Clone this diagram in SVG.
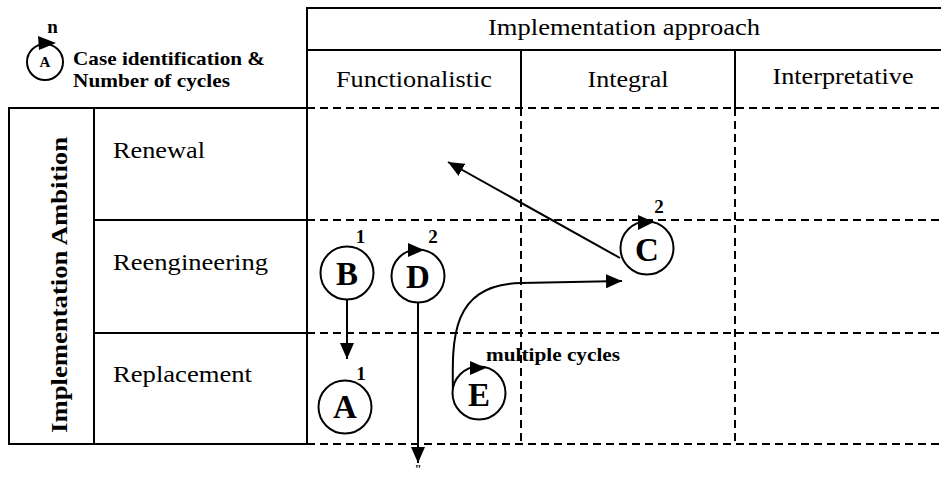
<svg xmlns="http://www.w3.org/2000/svg" width="941" height="477" viewBox="0 0 941 477">
<style>
.solid{stroke:#000;stroke-width:2;fill:none}
.dash{stroke:#000;stroke-width:2;fill:none;stroke-dasharray:8 5}
text{font-family:'Liberation Serif','Times New Roman',Tinos,'Nimbus Roman',serif;fill:#000}
.lbl{font-size:23px}
.bold{font-weight:bold}
.node circle{fill:#fff;stroke:#000;stroke-width:2}
.letter{font-weight:bold;font-size:33px;text-anchor:middle}
.num{font-weight:bold;font-size:19px;text-anchor:middle}
.conn{stroke:#000;stroke-width:2;fill:none}
</style>
<defs>
<marker id="ah" markerUnits="userSpaceOnUse" markerWidth="16" markerHeight="14" refX="16" refY="7" orient="auto">
<path d="M0,0 L16,7 L0,14 z" fill="#000"/>
</marker>
</defs>
<rect width="941" height="477" fill="#fff"/>

<g id="legend">
<circle cx="45" cy="62" r="18" fill="#fff" stroke="#000" stroke-width="2"/>
<polygon points="38,36 56,43 39,50" fill="#000"/>
<text x="45" y="67" class="bold" font-size="15" text-anchor="middle">A</text>
<text x="52.5" y="33" class="bold" font-size="19" text-anchor="middle">n</text>
<text x="73" y="65" class="bold" font-size="19" textLength="192" lengthAdjust="spacingAndGlyphs">Case identification &amp;</text>
<text x="73" y="87" class="bold" font-size="19" textLength="157" lengthAdjust="spacingAndGlyphs">Number of cycles</text>
</g>

<g id="grid">
<line class="solid" x1="307" y1="8" x2="941" y2="8"/>
<line class="solid" x1="307" y1="50" x2="941" y2="50"/>
<line class="solid" x1="307" y1="7" x2="307" y2="445"/>
<line class="solid" x1="521" y1="50" x2="521" y2="108"/>
<line class="solid" x1="735" y1="50" x2="735" y2="108"/>
<line class="dash" x1="307" y1="108" x2="941" y2="108"/>
<line class="dash" x1="307" y1="220" x2="941" y2="220"/>
<line class="dash" x1="307" y1="333" x2="941" y2="333"/>
<line class="dash" x1="307" y1="444" x2="941" y2="444"/>
<line class="dash" x1="521" y1="108" x2="521" y2="444"/>
<line class="dash" x1="735" y1="108" x2="735" y2="444"/>
<rect class="solid" x="9" y="108" width="298" height="336"/>
<line class="solid" x1="94" y1="108" x2="94" y2="444"/>
<line class="solid" x1="94" y1="220" x2="307" y2="220"/>
<line class="solid" x1="94" y1="333" x2="307" y2="333"/>
</g>

<g id="headers">
<text x="624" y="35" class="lbl" text-anchor="middle" textLength="272" lengthAdjust="spacingAndGlyphs">Implementation approach</text>
<text x="414" y="87" class="lbl" text-anchor="middle" textLength="156" lengthAdjust="spacingAndGlyphs">Functionalistic</text>
<text x="628" y="87" class="lbl" text-anchor="middle" textLength="81" lengthAdjust="spacingAndGlyphs">Integral</text>
<text x="843" y="84" class="lbl" text-anchor="middle" textLength="141" lengthAdjust="spacingAndGlyphs">Interpretative</text>
<text x="67" y="285" class="bold" font-size="24" text-anchor="middle" transform="rotate(-90 67 285)" textLength="296" lengthAdjust="spacingAndGlyphs">Implementation Ambition</text>
<text x="113" y="158" class="lbl" textLength="92" lengthAdjust="spacingAndGlyphs">Renewal</text>
<text x="113" y="270" class="lbl" textLength="155" lengthAdjust="spacingAndGlyphs">Reengineering</text>
<text x="113" y="382" class="lbl" textLength="139" lengthAdjust="spacingAndGlyphs">Replacement</text>
</g>

<g id="connectors">
<line class="conn" x1="620" y1="258" x2="448" y2="162" marker-end="url(#ah)"/>
<line class="conn" x1="347" y1="300" x2="347" y2="359" marker-end="url(#ah)"/>
<line class="conn" x1="418" y1="302" x2="418" y2="463" marker-end="url(#ah)"/>
<path class="conn" d="M453,395 C452,340 450,284 521,283 L622,281" marker-end="url(#ah)"/>
</g>

<g id="node-B" class="node">
<circle cx="347" cy="273" r="26.5"/>
<text x="347" y="285" class="letter">B</text>
<text x="360.5" y="243" class="num">1</text>
</g>
<g id="node-D" class="node">
<circle cx="418" cy="276" r="26.5"/>
<polygon points="408,243 424,250 408,257" fill="#000"/>
<text x="418" y="288" class="letter">D</text>
<text x="433" y="243" class="num">2</text>
</g>
<g id="node-A" class="node">
<circle cx="345" cy="407" r="26.5"/>
<text x="345" y="418" class="letter">A</text>
<text x="361" y="380" class="num">1</text>
</g>
<g id="node-C" class="node">
<circle cx="647" cy="248" r="26.5"/>
<polygon points="638,215 654,222 638,230" fill="#000"/>
<text x="647" y="261" class="letter">C</text>
<text x="659" y="213" class="num">2</text>
</g>
<g id="node-E" class="node">
<circle cx="479" cy="393" r="26.5"/>
<polygon points="470,361 486,368 470,375" fill="#000"/>
<text x="479" y="406" class="letter">E</text>
<text x="486" y="361" class="bold" font-size="19" textLength="134" lengthAdjust="spacingAndGlyphs">multiple cycles</text>
</g>

<text x="418" y="473" class="bold" font-size="12" text-anchor="middle">"</text>
</svg>
